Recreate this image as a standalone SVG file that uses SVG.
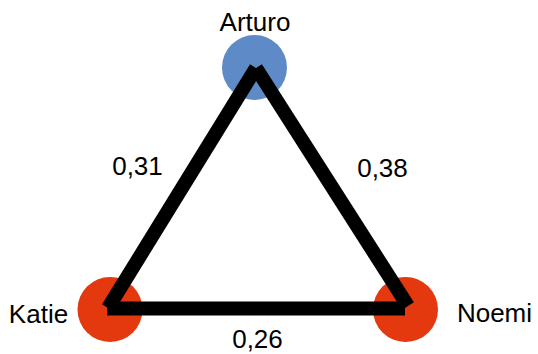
<svg xmlns="http://www.w3.org/2000/svg" width="538" height="354" viewBox="0 0 538 354">
<style>
.lbl{font-family:"Liberation Sans",Arial,sans-serif;font-size:26px;fill:#000;text-anchor:middle}
.edge{stroke:#000;stroke-width:14;stroke-linecap:butt;fill:none}
</style>
<rect width="538" height="354" fill="#fff"/>
<g id="node-arturo"><circle cx="254.5" cy="67.5" r="32.5" fill="#5e8ac7"/><text class="lbl" x="255" y="31">Arturo</text></g>
<g id="node-katie"><circle cx="110" cy="309.5" r="32.5" fill="#e4380e"/><text class="lbl" x="38.5" y="323">Katie</text></g>
<g id="node-noemi"><circle cx="405.5" cy="309.5" r="32.5" fill="#e4380e"/><text class="lbl" x="494.5" y="322">Noemi</text></g>
<g id="connectors">
<line class="edge" x1="108" y1="308" x2="256" y2="68"/>
<line class="edge" x1="256" y1="68" x2="408" y2="306"/>
<line class="edge" x1="107" y1="308.5" x2="405" y2="308.5"/>
<text class="lbl" x="137.5" y="175">0,31</text>
<text class="lbl" x="382.5" y="177">0,38</text>
<text class="lbl" x="257.5" y="348">0,26</text>
</g>
</svg>
